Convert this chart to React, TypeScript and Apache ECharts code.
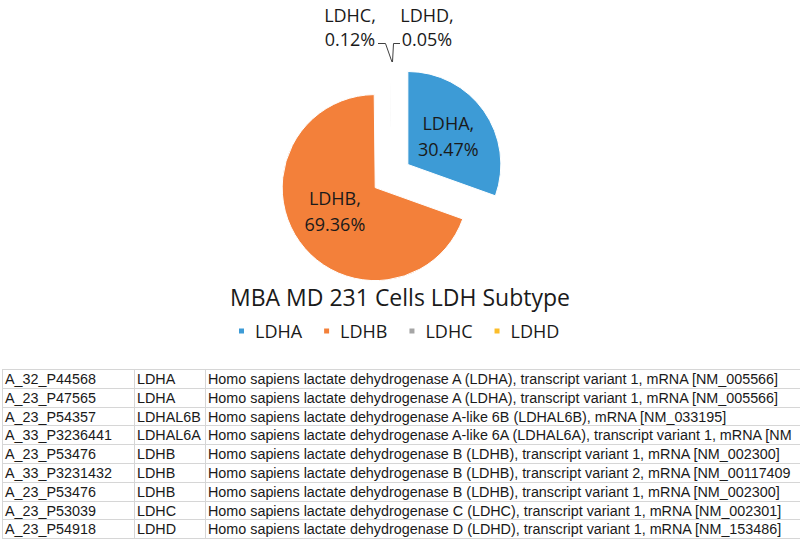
import React, { useEffect, useRef } from "react";
import * as echarts from "echarts";

const subtypes = ["LDHA", "LDHB", "LDHC", "LDHD"];
const shares = [30.47, 69.36, 0.12, 0.05];
const sliceColors = ["#3d9bd6", "#f3803a", "#a5a5a5", "#fbbd2a"];
const chartTitle = "MBA MD 231 Cells LDH Subtype";

const probeIds = [
  "A_32_P44568",
  "A_23_P47565",
  "A_23_P54357",
  "A_33_P3236441",
  "A_23_P53476",
  "A_33_P3231432",
  "A_23_P53476",
  "A_23_P53039",
  "A_23_P54918",
];
const geneSymbols = ["LDHA", "LDHA", "LDHAL6B", "LDHAL6A", "LDHB", "LDHB", "LDHB", "LDHC", "LDHD"];
const descriptions = [
  "Homo sapiens lactate dehydrogenase A (LDHA), transcript variant 1, mRNA [NM_005566]",
  "Homo sapiens lactate dehydrogenase A (LDHA), transcript variant 1, mRNA [NM_005566]",
  "Homo sapiens lactate dehydrogenase A-like 6B (LDHAL6B), mRNA [NM_033195]",
  "Homo sapiens lactate dehydrogenase A-like 6A (LDHAL6A), transcript variant 1, mRNA [NM_144972]",
  "Homo sapiens lactate dehydrogenase B (LDHB), transcript variant 1, mRNA [NM_002300]",
  "Homo sapiens lactate dehydrogenase B (LDHB), transcript variant 2, mRNA [NM_001174097]",
  "Homo sapiens lactate dehydrogenase B (LDHB), transcript variant 1, mRNA [NM_002300]",
  "Homo sapiens lactate dehydrogenase C (LDHC), transcript variant 1, mRNA [NM_002301]",
  "Homo sapiens lactate dehydrogenase D (LDHD), transcript variant 1, mRNA [NM_153486]",
];

const W = 800;
const H = 541;

function buildTable(): any[] {
  const els: any[] = [];
  const top = 369;
  const rowH = 18.8;
  const colX = [2, 134, 205];
  const textX = [5, 137, 208];
  const n = probeIds.length;
  const lineStyle = { stroke: "#d6d6d6", lineWidth: 1 };
  for (let i = 0; i <= n; i++) {
    const y = Math.round(top + i * rowH) + 0.5;
    els.push({ type: "line", shape: { x1: colX[0], y1: y, x2: W, y2: y }, style: lineStyle, silent: true });
  }
  const bottom = Math.round(top + n * rowH) + 0.5;
  colX.forEach((x) => {
    els.push({ type: "line", shape: { x1: x + 0.5, y1: top + 0.5, x2: x + 0.5, y2: bottom }, style: lineStyle, silent: true });
  });
  for (let i = 0; i < n; i++) {
    const cy = top + i * rowH + rowH / 2 + 0.5;
    const cells = [probeIds[i], geneSymbols[i], descriptions[i]];
    cells.forEach((t, j) => {
      els.push({
        type: "text",
        x: textX[j],
        y: cy,
        silent: true,
        style: {
          text: t,
          fill: "#1a1a1a",
          font: "14.35px 'Liberation Sans', Arial, sans-serif",
          verticalAlign: "middle",
          align: "left",
          width: j === 2 ? W - textX[j] : undefined,
          overflow: j === 2 ? "truncate" : undefined,
          ellipsis: "",
        },
      });
    });
  }
  return els;
}

export default function App() {
  const ref = useRef<HTMLDivElement>(null);
  useEffect(() => {
    if (!ref.current) return;
    const chart = echarts.init(ref.current, undefined, { renderer: "svg" });
    const font = "'Open Sans', sans-serif";
    const outsideLabels: Record<number, any> = {
      2: { x: 350, y: 27, points: [[392, 62], [385.5, 43.5], [378, 43.5]] },
      3: { x: 427, y: 27, points: [[392.5, 62], [393.5, 43.5], [400, 43.5]] },
    };
    chart.setOption({
      animation: false,
      color: sliceColors,
      title: {
        text: chartTitle,
        left: "center",
        top: 280,
        textStyle: { fontFamily: font, fontSize: 23, fontWeight: "normal", color: "#1a1a1a" },
      },
      legend: {
        data: subtypes,
        left: 232,
        top: 316,
        icon: "rect",
        itemWidth: 7,
        itemHeight: 7,
        itemGap: 20,
        selectedMode: false,
        textStyle: { fontFamily: font, fontSize: 18, color: "#1a1a1a", lineHeight: 20, padding: [0, 0, 0, 5] },
      },
      graphic: buildTable(),
      series: [
        {
          type: "pie",
          center: [391.5, 176],
          radius: 93,
          startAngle: 90,
          clockwise: true,
          selectedMode: "multiple",
          selectedOffset: 20,
          avoidLabelOverlap: false,
          emphasis: { disabled: true },
          itemStyle: { borderColor: "#ffffff", borderWidth: 1 },
          label: {
            fontFamily: font,
            fontSize: 18,
            lineHeight: 26,
            color: "#1a1a1a",
            align: "center",
            formatter: (p: any) => `${p.name},\n${Number(p.value).toFixed(2)}%`,
          },
          labelLine: { lineStyle: { color: "#404040", width: 1 } },
          labelLayout: (p: any) => {
            if (p.dataIndex === 1) return { dy: -5 };
            const o = outsideLabels[p.dataIndex];
            if (!o) return {};
            return { x: o.x, y: o.y, align: "center", verticalAlign: "middle", labelLinePoints: o.points };
          },
          data: subtypes.map((name, i) => ({
            name,
            value: shares[i],
            selected: i < 2,
            label: i < 2 ? { position: "inside" } : { position: "outside", show: true, lineHeight: 24 },
            labelLine: { show: i >= 2 },
          })),
        },
      ],
    });
    return () => chart.dispose();
  }, []);
  return (
    <div
      ref={ref}
      style={{ position: "fixed", left: 0, top: 0, width: W, height: H, background: "#ffffff" }}
    />
  );
}
